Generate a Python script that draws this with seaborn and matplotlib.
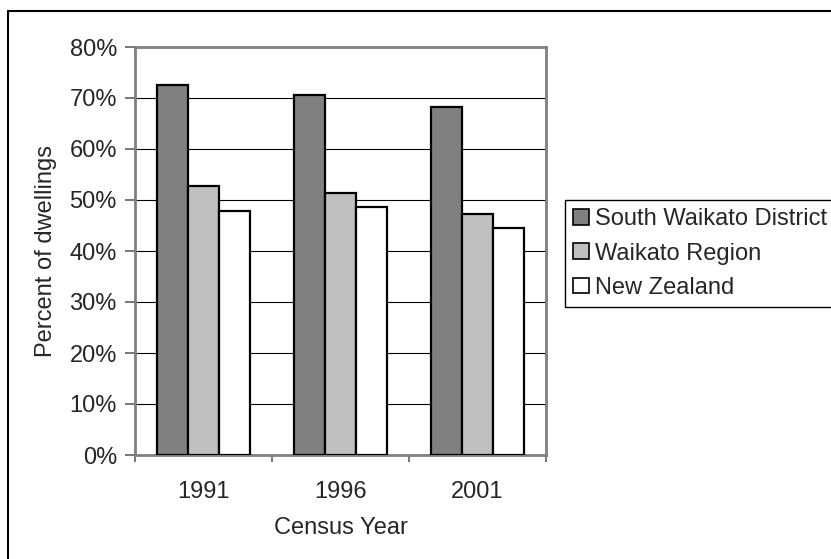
import matplotlib
matplotlib.use("Agg")
import matplotlib.pyplot as plt
import matplotlib.lines as mlines
from matplotlib.ticker import FuncFormatter, FixedLocator
import seaborn as sns
import pandas as pd

# values (percent of dwellings)
years = ["1991", "1996", "2001"]
areas = ["South Waikato District", "Waikato Region", "New Zealand"]
south_waikato = [72.5, 70.6, 68.2]
waikato_region = [52.7, 51.3, 47.3]
new_zealand = [47.8, 48.7, 44.6]
y_ticks = [0, 10, 20, 30, 40, 50, 60, 70, 80]

bar_colors = {"South Waikato District": "#808080", "Waikato Region": "#c0c0c0", "New Zealand": "#ffffff"}

df = pd.DataFrame(
    {
        "year": years * 3,
        "area": [areas[0]] * 3 + [areas[1]] * 3 + [areas[2]] * 3,
        "pct": south_waikato + waikato_region + new_zealand,
    }
)

sns.set_theme(style="white")
plt.rcParams["font.family"] = ["Liberation Sans", "DejaVu Sans"]
fs = 17

fig = plt.figure(figsize=(8.31, 5.59), dpi=100)
ax = fig.add_axes([135 / 831, 1 - 455 / 559, (546 - 135) / 831, (455 - 47) / 559])

sns.barplot(
    data=df,
    x="year",
    y="pct",
    hue="area",
    hue_order=areas,
    palette=bar_colors,
    width=0.68,
    gap=0,
    edgecolor="black",
    linewidth=1.6,
    saturation=1,
    ax=ax,
    zorder=3,
)

ax.set_ylim(0, 80)
ax.set_xlim(-0.5, 2.5)
ax.yaxis.set_major_locator(FixedLocator(y_ticks))
ax.yaxis.set_major_formatter(FuncFormatter(lambda v, p: f"{v:.0f}%"))
ax.grid(axis="y", color="black", linewidth=0.8, zorder=0)
ax.set_axisbelow(True)

# x ticks sit between the year groups, labels at the centre
ax.xaxis.set_minor_locator(FixedLocator([-0.5, 0.5, 1.5, 2.5]))
ax.tick_params(axis="x", which="major", length=0, pad=19, labelsize=fs)
ax.tick_params(axis="x", which="minor", length=5, width=1.2, color="#606060", direction="out", bottom=True)
ax.tick_params(axis="y", which="major", length=7, width=1.2, color="#606060", direction="out", left=True, labelsize=fs, pad=6)

for s in ax.spines.values():
    s.set_color("#808080")
    s.set_linewidth(2)

ax.set_xlabel("Census Year", fontsize=fs, labelpad=10)
ax.set_ylabel("Percent of dwellings", fontsize=fs, labelpad=9)

leg = ax.legend(
    loc="upper left",
    bbox_to_anchor=(565 / 831, 1 - 200 / 559),
    bbox_transform=fig.transFigure,
    fontsize=fs,
    frameon=True,
    fancybox=False,
    edgecolor="black",
    framealpha=1,
    handlelength=0.68,
    handleheight=0.65,
    handletextpad=0.25,
    labelspacing=0.52,
    borderpad=0.35,
    borderaxespad=0,
)
leg.get_frame().set_linewidth(1.0)
for h in leg.legend_handles:
    h.set_edgecolor("black")
    h.set_linewidth(1.2)

# outer chart frame (left and top edge visible)
fig.add_artist(mlines.Line2D([8 / 831, 8 / 831], [0, 1 - 11 / 559], color="black", linewidth=1.5, transform=fig.transFigure))
fig.add_artist(mlines.Line2D([8 / 831, 1], [1 - 11 / 559, 1 - 11 / 559], color="black", linewidth=1.5, transform=fig.transFigure))

fig.savefig("out.png", dpi=100)
